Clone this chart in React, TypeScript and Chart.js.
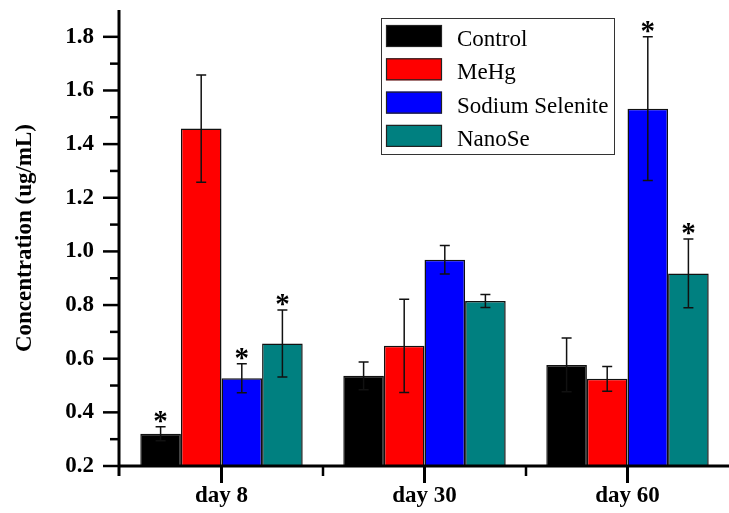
import React, { useEffect, useRef } from "react";
import { Chart, registerables } from "chart.js";

Chart.register(...registerables);

const categories = ["day 8", "day 30", "day 60"];
const seriesNames = ["Control", "MeHg", "Sodium Selenite", "NanoSe"];
const seriesColors = ["#000000", "#FF0000", "#0000FF", "#008080"];
const controlValues = [0.32, 0.536, 0.577];
const mehgValues = [1.458, 0.648, 0.525];
const seleniteValues = [0.527, 0.969, 1.532];
const nanoSeValues = [0.657, 0.815, 0.918];
const controlErrors = [0.026, 0.052, 0.1];
const mehgErrors = [0.2, 0.174, 0.046];
const seleniteErrors = [0.054, 0.053, 0.268];
const nanoSeErrors = [0.125, 0.024, 0.128];
const controlStars = [true, false, false];
const mehgStars = [false, false, false];
const seleniteStars = [true, false, true];
const nanoSeStars = [true, false, true];
const yMin = 0.2;
const yMax = 1.9;
const yStep = 0.1;
const yTitle = "Concentration (ug/mL)";

const SERIF = '"Liberation Serif", "Times New Roman", serif';

const allValues = [controlValues, mehgValues, seleniteValues, nanoSeValues];
const allErrors = [controlErrors, mehgErrors, seleniteErrors, nanoSeErrors];
const allStars = [controlStars, mehgStars, seleniteStars, nanoSeStars];

const decorPlugin = {
  id: "decor",
  afterDatasetsDraw(chart: any) {
    const ctx = chart.ctx;
    const ys = chart.scales.y;
    chart.data.datasets.forEach((ds: any, di: number) => {
      const meta = chart.getDatasetMeta(di);
      meta.data.forEach((bar: any, i: number) => {
        const v = allValues[di][i];
        const e = allErrors[di][i];
        const x = bar.x;
        const yTop = ys.getPixelForValue(v + e);
        const yBot = ys.getPixelForValue(v - e);
        ctx.save();
        ctx.strokeStyle = "#111";
        ctx.lineWidth = 1.5;
        ctx.beginPath();
        ctx.moveTo(x, yTop);
        ctx.lineTo(x, yBot);
        ctx.moveTo(x - 5, yTop);
        ctx.lineTo(x + 5, yTop);
        ctx.moveTo(x - 5, yBot);
        ctx.lineTo(x + 5, yBot);
        ctx.stroke();
        if (allStars[di][i]) {
          ctx.font = `bold 29px ${SERIF}`;
          ctx.fillStyle = "#000";
          ctx.textAlign = "center";
          ctx.textBaseline = "alphabetic";
          const m = ctx.measureText("*");
          const glyphCenter = (m.actualBoundingBoxAscent - m.actualBoundingBoxDescent) / 2;
          const targetCenter = yTop - 10;
          ctx.fillText("*", x, targetCenter + glyphCenter);
        }
        ctx.restore();
      });
    });
  },
  afterDraw(chart: any) {
    const ctx = chart.ctx;
    const { left, bottom, top } = chart.chartArea;
    const ys = chart.scales.y;
    const xs = chart.scales.x;
    ctx.save();
    ctx.strokeStyle = "#000";
    ctx.lineCap = "butt";
    ctx.lineWidth = 3;
    ctx.beginPath();
    ctx.moveTo(left - 1, top);
    ctx.lineTo(left - 1, bottom + 10);
    ctx.stroke();
    ctx.beginPath();
    ctx.moveTo(left - 1, bottom);
    ctx.lineTo(chart.width, bottom);
    ctx.stroke();
    ys.ticks.forEach((t: any) => {
      const n = Math.round(t.value * 10);
      if (t.value >= yMax - 1e-6) return;
      const y = ys.getPixelForValue(t.value);
      const major = n % 2 === 0;
      ctx.lineWidth = 2.5;
      ctx.beginPath();
      ctx.moveTo(left - (major ? 17 : 10), y);
      ctx.lineTo(left - 1, y);
      ctx.stroke();
    });
    categories.forEach((_c, i) => {
      const cx = xs.getPixelForValue(i);
      ctx.lineWidth = 3;
      ctx.beginPath();
      ctx.moveTo(cx, bottom);
      ctx.lineTo(cx, bottom + 17);
      ctx.stroke();
      const half = (xs.getPixelForValue(1) - xs.getPixelForValue(0)) / 2;
      if (i > 0) {
        ctx.lineWidth = 2.5;
        ctx.beginPath();
        ctx.moveTo(cx - half, bottom);
        ctx.lineTo(cx - half, bottom + 10);
        ctx.stroke();
      }
    });
    const bx = 381, by = 18, bw = 233, bh = 136;
    ctx.lineWidth = 1;
    ctx.strokeStyle = "#333";
    ctx.strokeRect(bx + 0.5, by + 0.5, bw, bh);
    chart.data.datasets.forEach((ds: any, i: number) => {
      const sy = 25 + i * 33.3;
      ctx.fillStyle = ds.backgroundColor;
      ctx.fillRect(386, sy, 56, 22);
      ctx.strokeStyle = "#222";
      ctx.lineWidth = 1.2;
      ctx.strokeRect(386.5, sy + 0.5, 55, 21);
      ctx.fillStyle = "#000";
      ctx.font = `23px ${SERIF}`;
      ctx.textAlign = "left";
      ctx.textBaseline = "alphabetic";
      ctx.fillText(ds.label, 457, sy + 21);
    });
    ctx.restore();
  },
};

export default function App() {
  const ref = useRef<HTMLCanvasElement | null>(null);
  useEffect(() => {
    document.body.style.margin = "0";
    if (!ref.current) return;
    const chart = new Chart(ref.current, {
      type: "bar",
      data: {
        labels: categories,
        datasets: seriesNames.map((name, i) => ({
          label: name,
          data: allValues[i],
          backgroundColor: seriesColors[i],
          borderColor: "#111",
          borderWidth: 1.5,
          barPercentage: 1.0,
          categoryPercentage: 0.8,
        })),
      },
      options: {
        responsive: false,
        animation: false,
        layout: { padding: { top: 10, right: -6, left: 0, bottom: 0 } },
        plugins: {
          legend: { display: false },
          tooltip: { enabled: false },
        },
        scales: {
          x: {
            offset: true,
            grid: { display: false, drawTicks: false },
            border: { display: false },
            ticks: {
              padding: 16,
              color: "#000",
              font: { family: SERIF, size: 23, weight: "bold" },
            },
            afterFit: (s: any) => {
              s.height = 47;
              s.paddingLeft = 0;
              s.paddingRight = 0;
            },
          },
          y: {
            min: yMin,
            max: yMax,
            grid: { display: false, drawTicks: false },
            border: { display: false },
            ticks: {
              stepSize: yStep,
              autoSkip: false,
              padding: 26,
              color: "#000",
              font: { family: SERIF, size: 23, weight: "bold" },
              callback: (value: any) => {
                const n = Math.round(Number(value) * 10);
                return n % 2 === 0 ? (n / 10).toFixed(1) : "";
              },
            },
            title: {
              display: true,
              text: yTitle,
              color: "#000",
              font: { family: SERIF, size: 23, weight: "bold" },
              padding: { top: 11, bottom: 0 },
            },
            afterFit: (s: any) => {
              s.width = 120;
              s.paddingTop = 0;
              s.paddingBottom = 0;
            },
          },
        },
      },
      plugins: [decorPlugin],
    });
    return () => chart.destroy();
  }, []);
  return (
    <div style={{ width: 729, height: 513 }}>
      <canvas ref={ref} width={729} height={513} />
    </div>
  );
}
